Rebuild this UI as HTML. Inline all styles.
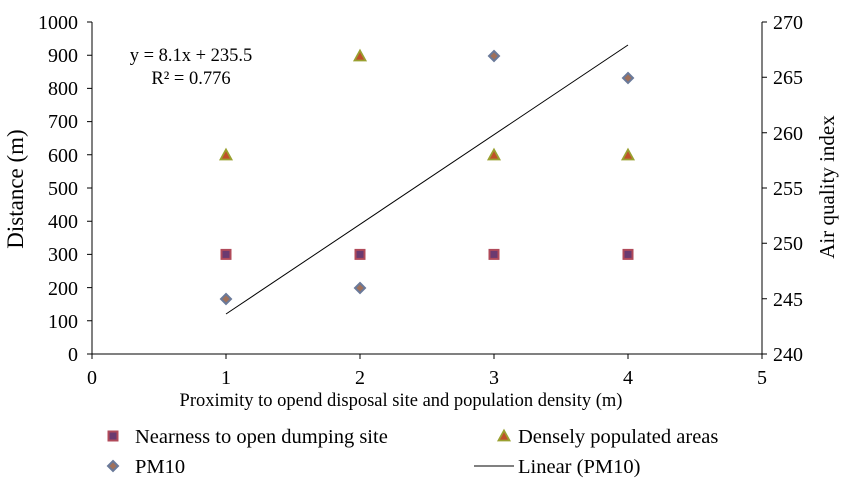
<!DOCTYPE html>
<html><head><meta charset="utf-8"><style>
html,body{margin:0;padding:0;background:#fff;}
svg{display:block;font-family:"Liberation Serif",serif;}
</style></head><body>
<svg width="845" height="480" viewBox="0 0 845 480" xmlns="http://www.w3.org/2000/svg">
<defs>
<g id="sq"><rect x="-4.5" y="-4.5" width="9" height="9" fill="#6a3a70" stroke="#b04a5a" stroke-width="2"/></g>
<g id="tr"><polygon points="0,-5.5 5.5,4.5 -5.5,4.5" fill="#c0502a" stroke="#9aa030" stroke-width="1.8"/></g>
<g id="di"><polygon points="0,-5 5,0 0,5 -5,0" fill="#a0705a" stroke="#6a7a9a" stroke-width="2"/></g>
</defs>
<g stroke="#000" stroke-width="1" fill="none">
<line x1="92" y1="22" x2="92" y2="354"/>
<line x1="762" y1="22" x2="762" y2="354"/>
<line x1="92" y1="354" x2="762" y2="354"/>
<path d="M87 22H92M87 55.2H92M87 88.4H92M87 121.6H92M87 154.8H92M87 188H92M87 221.2H92M87 254.4H92M87 287.6H92M87 320.8H92M87 354H92"/>
<path d="M762 22H767M762 77.3H767M762 132.7H767M762 188H767M762 243.3H767M762 298.7H767M762 354H767"/>
<path d="M92 354V359M226 354V359M360 354V359M494 354V359M628 354V359M762 354V359"/>
</g>
<g font-size="20" text-anchor="end" fill="#000">
<text x="78" y="29">1000</text><text x="78" y="62">900</text><text x="78" y="95">800</text>
<text x="78" y="128">700</text><text x="78" y="162">600</text><text x="78" y="195">500</text>
<text x="78" y="228">400</text><text x="78" y="261">300</text><text x="78" y="295">200</text>
<text x="78" y="328">100</text><text x="78" y="361">0</text>
</g>
<g font-size="20" text-anchor="start" fill="#000">
<text x="773" y="29">270</text><text x="773" y="84">265</text><text x="773" y="140">260</text>
<text x="773" y="195">255</text><text x="773" y="250">250</text><text x="773" y="306">245</text>
<text x="773" y="361">240</text>
</g>
<g font-size="20" text-anchor="middle" fill="#000">
<text x="92" y="384">0</text><text x="226" y="384">1</text><text x="360" y="384">2</text>
<text x="494" y="384">3</text><text x="628" y="384">4</text><text x="762" y="384">5</text>
</g>
<text x="401" y="406" font-size="18.5" text-anchor="middle">Proximity to opend disposal site and population density  (m)</text>
<g font-size="18.5" text-anchor="middle" fill="#000">
<text x="191" y="61">y = 8.1x + 235.5</text>
<text x="191" y="84">R² = 0.776</text>
</g>
<text transform="translate(23,189) rotate(-90)" font-size="23" text-anchor="middle">Distance (m)</text>
<text transform="translate(834,187) rotate(-90)" font-size="21" text-anchor="middle">Air quality index</text>
<line x1="226" y1="314" x2="628" y2="45" stroke="#000" stroke-width="1"/>
<use href="#sq" x="226" y="254.4"/><use href="#sq" x="360" y="254.4"/><use href="#sq" x="494" y="254.4"/><use href="#sq" x="628" y="254.4"/>
<use href="#tr" x="226" y="155"/><use href="#tr" x="360" y="56"/><use href="#tr" x="494" y="155"/><use href="#tr" x="628" y="155"/>
<use href="#di" x="226" y="299"/><use href="#di" x="360" y="288"/><use href="#di" x="494" y="56"/><use href="#di" x="628" y="78"/>
<use href="#sq" x="113" y="436"/>
<use href="#di" x="113" y="466"/>
<use href="#tr" x="504" y="436"/>
<line x1="474" y1="466" x2="514" y2="466" stroke="#000" stroke-width="1"/>
<g font-size="20.5" fill="#000">
<text x="135" y="443">Nearness to open dumping site</text>
<text x="135" y="473">PM10</text>
<text x="518" y="443">Densely populated areas</text>
<text x="518" y="473">Linear (PM10)</text>
</g>
</svg>
</body></html>
